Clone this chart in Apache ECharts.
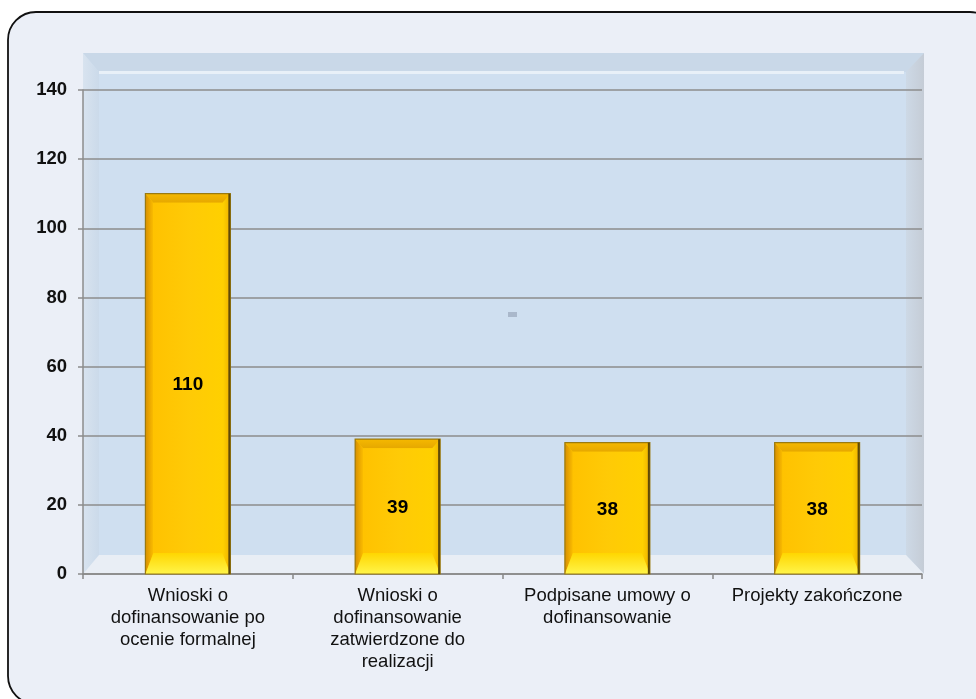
<!DOCTYPE html>
<html>
<head>
<meta charset="utf-8">
<script src="https://cdn.jsdelivr.net/npm/echarts@6/dist/echarts.min.js"></script>
<style>
  html, body { margin: 0; padding: 0; background: #ffffff; }
  #chart { width: 976px; height: 699px; }
</style>
</head>
<body>
<div id="chart"></div>
<script>
// Categories and values
const categories = [
  'Wnioski o\ndofinansowanie po\nocenie formalnej',
  'Wnioski o\ndofinansowanie\nzatwierdzone do\nrealizacji',
  'Podpisane umowy o\ndofinansowanie',
  'Projekty zakończone'
];
const values = [110, 39, 38, 38];
const yTicks = { min: 0, max: 140, interval: 20 };

const FONT = "'Liberation Sans', Arial, sans-serif";

// Plot layout
const W = 976, H = 699;
const GRID = { left: 83, right: 54, top: 90, bottom: 125 };
const gx0 = GRID.left, gx1 = W - GRID.right, gy0 = GRID.top, gy1 = H - GRID.bottom;

// Beveled back wall
const wall = { x0: gx0, x1: gx1 + 2, y0: gy0 - 37, y1: gy1 };
const bv = 16; // bevel thickness
function poly(points, fill) {
  return { type: 'polygon', z: -10, silent: true, shape: { points }, style: { fill } };
}
const wallGraphics = [
  // outer panel background
  { type: 'rect', z: -12, silent: true, shape: { x: 8, y: 12, width: 990, height: 692, r: 28 },
    style: { fill: '#ebeff7', stroke: '#111', lineWidth: 1.8 } },
  { type: 'rect', z: -11, silent: true,
    shape: { x: wall.x0, y: wall.y0, width: wall.x1 - wall.x0, height: wall.y1 - wall.y0 },
    style: { fill: '#cfdff0' } },
  // top bevel
  poly([[wall.x0, wall.y0], [wall.x1, wall.y0], [wall.x1 - bv, wall.y0 + bv + 3], [wall.x0 + bv, wall.y0 + bv + 3]], '#c9d8e8'),
  // left bevel
  poly([[wall.x0, wall.y0], [wall.x0 + bv, wall.y0 + bv + 3], [wall.x0 + bv, wall.y1 - bv - 3], [wall.x0, wall.y1]],
    new echarts.graphic.LinearGradient(0, 0, 1, 0, [{ offset: 0, color: '#d8e3ef' }, { offset: 1, color: '#cbdaea' }])),
  // right bevel
  poly([[wall.x1, wall.y0], [wall.x1, wall.y1], [wall.x1 - bv - 2, wall.y1 - bv - 3], [wall.x1 - bv - 2, wall.y0 + bv + 3]],
    new echarts.graphic.LinearGradient(0, 0, 1, 0, [{ offset: 0, color: '#cdd9e6' }, { offset: 1, color: '#c5ccd6' }])),
  // floor bevel
  poly([[wall.x0, wall.y1], [wall.x0 + bv, wall.y1 - bv - 3], [wall.x1 - bv - 2, wall.y1 - bv - 3], [wall.x1, wall.y1]], '#e9eef5'),
  // highlight along the inner top edge
  { type: 'rect', z: -9, silent: true,
    shape: { x: wall.x0 + bv, y: wall.y0 + bv + 2, width: wall.x1 - wall.x0 - 2 * bv - 4, height: 3 },
    style: { fill: '#e8f0f8' } },
  // small marker in the middle of the wall
  { type: 'rect', z: 5, silent: true, shape: { x: 508, y: 312, width: 9, height: 5 }, style: { fill: '#aab8cb' } }
];

// Gold bar with bevelled edges, drawn through the axis scales
function renderBar(params, api) {
  const idx = api.value(0), val = api.value(1);
  const top = api.coord([idx, val]);
  const base = api.coord([idx, 0]);
  const bw = api.size([1, 0])[0] * 0.405;
  const x0 = top[0] - bw / 2, x1 = top[0] + bw / 2;
  const y0 = top[1], y1 = base[1];
  const t = 9, s = 8, b = 21;
  const ix0 = x0 + s, ix1 = x1 - s, iy0 = y0 + t, iy1 = y1 - b;
  const G = echarts.graphic.LinearGradient;
  return {
    type: 'group',
    children: [
      { type: 'rect', shape: { x: x0, y: y0, width: bw, height: y1 - y0 },
        style: { fill: '#ffc800' } },
      // left bevel
      { type: 'polygon', shape: { points: [[x0, y0], [ix0, iy0], [ix0, iy1], [x0, y1]] },
        style: { fill: new G(0, 0, 1, 0, [{ offset: 0, color: '#d88f00' }, { offset: 1, color: '#fbbd00' }]) } },
      // right bevel
      { type: 'polygon', shape: { points: [[x1, y0], [x1, y1], [ix1, iy1], [ix1, iy0]] },
        style: { fill: new G(0, 0, 1, 0, [{ offset: 0, color: '#ffd400' }, { offset: 1, color: '#eeb000' }]) } },
      // top bevel
      { type: 'polygon', shape: { points: [[x0, y0], [x1, y0], [ix1, iy0], [ix0, iy0]] },
        style: { fill: new G(0, 0, 0, 1, [{ offset: 0, color: '#f5b800' }, { offset: 1, color: '#e6a800' }]) } },
      // bottom bevel
      { type: 'polygon', shape: { points: [[x0, y1], [ix0, iy1], [ix1, iy1], [x1, y1]] },
        style: { fill: new G(0, 0, 0, 1, [{ offset: 0, color: '#ffd600' }, { offset: 1, color: '#fff54a' }]) } },
      // centre face
      { type: 'rect', shape: { x: ix0, y: iy0, width: ix1 - ix0, height: Math.max(0, iy1 - iy0) },
        style: { fill: new G(0, 0, 1, 0, [{ offset: 0, color: '#ffc200' }, { offset: 0.5, color: '#ffca06' }, { offset: 1, color: '#ffd000' }]) } },
      // outline
      { type: 'rect', shape: { x: x0, y: y0, width: bw, height: y1 - y0 },
        style: { fill: 'none', stroke: '#9a7a10', lineWidth: 1.2 } },
      { type: 'line', shape: { x1: x1 - 1, y1: y0, x2: x1 - 1, y2: y1 },
        style: { stroke: '#5e4a08', lineWidth: 2 } },
      // value label
      { type: 'text', style: {
          x: top[0], y: (y0 + y1) / 2 + 1, text: String(val),
          font: 'bold 19px ' + FONT, fill: '#000', align: 'center', verticalAlign: 'middle' } }
    ]
  };
}

const chart = echarts.init(document.getElementById('chart'), null, { renderer: 'canvas' });
chart.setOption({
  backgroundColor: '#ffffff',
  animation: false,
  textStyle: { fontFamily: FONT },
  graphic: wallGraphics,
  grid: GRID,
  xAxis: {
    type: 'category',
    data: categories,
    axisLine: { lineStyle: { color: '#888', width: 1.5 } },
    axisTick: { show: true, length: 5, lineStyle: { color: '#888', width: 1.5 } },
    axisLabel: { color: '#111', fontSize: 18.5, lineHeight: 22, margin: 11, fontFamily: FONT, interval: 0 }
  },
  yAxis: {
    type: 'value',
    min: yTicks.min, max: yTicks.max, interval: yTicks.interval,
    axisLine: { show: true, lineStyle: { color: '#8c8c8c', width: 1.5 } },
    axisTick: { show: true, length: 5, lineStyle: { color: '#8c8c8c', width: 1.5 } },
    axisLabel: { color: '#111', fontSize: 18.5, fontWeight: 'bold', margin: 16, fontFamily: FONT },
    splitLine: { show: true, lineStyle: { color: '#8c8c8c', width: 1.5 } }
  },
  series: [{
    type: 'custom',
    renderItem: renderBar,
    data: values.map((v, i) => [i, v]),
    encode: { x: 0, y: 1 },
    z: 3
  }]
});
</script>
</body>
</html>
